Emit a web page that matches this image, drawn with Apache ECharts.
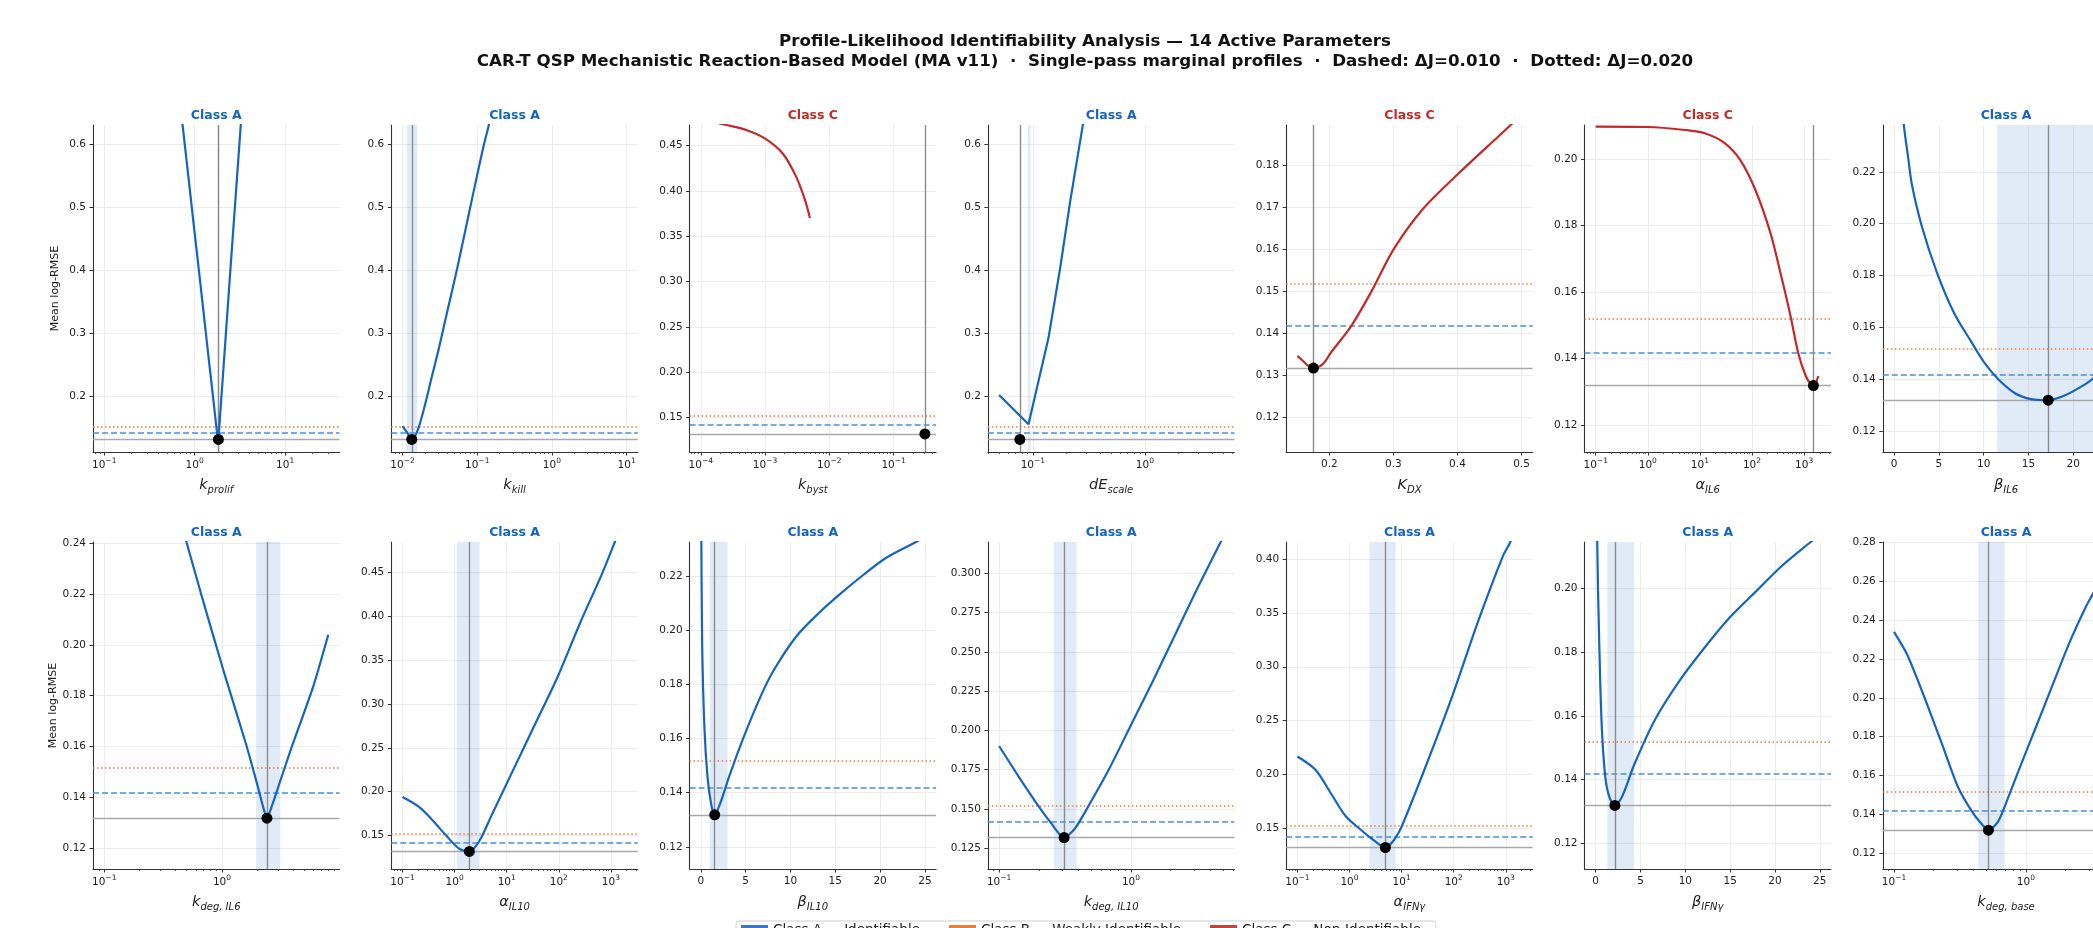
<!DOCTYPE html>
<html><head><meta charset="utf-8">
<script src="https://cdn.jsdelivr.net/npm/echarts@6/dist/echarts.min.js"></script>
<style>html,body{margin:0;padding:0;background:#fff}#c{width:2093px;height:928px}</style>
</head><body><div id="c"></div>
<script>
// ---------------- DATA ----------------
const J_STAR = 0.1318;
const DELTA_DASHED = 0.010;
const DELTA_DOTTED = 0.020;

const paramSymbols = ['k','k','k','dE','K','α','β','k','α','β','k','α','β','k'];
const paramSubs = ['prolif','kill','byst','scale','DX','IL6','IL6','deg, IL6','IL10','IL10','deg, IL10','IFNγ','IFNγ','deg, base'];
const paramClasses = ['A','A','C','A','C','C','A','A','A','A','A','A','A','A'];
const logScaled = [true,true,true,true,false,true,false,true,true,false,true,true,false,true];
const rangeLo = [0.1, 0.01, 1e-4, 0.05, 0.15, 0.1, 0, 0.1, 0.1, 0, 0.1, 0.1, 0, 0.1];
const rangeHi = [30, 10, 0.307, 5, 0.5, 2000, 25, 8, 2000, 25, 5, 2000, 25, 5];
const yTop = [0.6306, 0.6306, 0.4727, 0.6306, 0.1897, 0.2103, 0.2381, 0.2405, 0.4851, 0.2326, 0.320, 0.4161, 0.2147, 0.2803];
const optima = [1.83, 0.0133, 0.307, 0.0766, 0.175, 1510, 17.2, 2.41, 1.92, 1.55, 0.311, 4.89, 2.14, 0.52];
const bandLo = [1.79, 0.0114, null, 0.0905, null, null, 11.5, 1.95, 1.10, 1.0, 0.26, 2.44, 1.3, 0.435];
const bandHi = [1.88, 0.0158, null, 0.0955, null, null, 24.5, 3.13, 3.02, 3.0, 0.387, 7.64, 4.29, 0.69];
const smoothness = [0, 0.3, 0.3, 0, 0.3, 0.3, 0.3, 0.2, 0.3, 0.3, 0.25, 0.3, 0.3, 0.25];

const xTicksRaw = [
  [0.1,1,10],[0.01,0.1,1,10],[1e-4,1e-3,1e-2,1e-1],[0.1,1],[0.2,0.3,0.4,0.5],
  [0.1,1,10,100,1000],[0,5,10,15,20,25],[0.1,1],[0.1,1,10,100,1000],[0,5,10,15,20,25],
  [0.1,1],[0.1,1,10,100,1000],[0,5,10,15,20,25],[0.1,1]
];
const xDecimals = [0,0,0,0,1,0,0,0,0,0,0,0,0,0];
const yTicks = [
  [0.2,0.3,0.4,0.5,0.6],
  [0.2,0.3,0.4,0.5,0.6],
  [0.15,0.20,0.25,0.30,0.35,0.40,0.45],
  [0.2,0.3,0.4,0.5,0.6],
  [0.12,0.13,0.14,0.15,0.16,0.17,0.18],
  [0.12,0.14,0.16,0.18,0.20],
  [0.12,0.14,0.16,0.18,0.20,0.22],
  [0.12,0.14,0.16,0.18,0.20,0.22,0.24],
  [0.15,0.20,0.25,0.30,0.35,0.40,0.45],
  [0.12,0.14,0.16,0.18,0.20,0.22],
  [0.125,0.150,0.175,0.200,0.225,0.250,0.275,0.300],
  [0.15,0.20,0.25,0.30,0.35,0.40],
  [0.12,0.14,0.16,0.18,0.20],
  [0.12,0.14,0.16,0.18,0.20,0.22,0.24,0.26,0.28]
];
const yDecimals = [1,1,2,1,2,2,2,2,2,2,3,2,2,2];

const kProlifX = [0.45,0.6,0.736,0.85,1.0,1.15,1.3,1.45,1.6,1.72,1.78,1.83,1.87,1.95,2.0,2.2,2.5,2.85,3.23,4.0];
const kProlifY = [0.905,0.744,0.630,0.550,0.459,0.382,0.313,0.252,0.198,0.157,0.138,0.1318,0.150,0.188,0.210,0.294,0.407,0.521,0.630,0.819];
const kKillX = [0.01,0.0115,0.0133,0.0158,0.0195,0.0239,0.0308,0.0398,0.0541,0.0735,0.1,0.1227,0.143,0.2];
const kKillY = [0.153,0.143,0.1318,0.145,0.1815,0.2243,0.277,0.335,0.4037,0.4776,0.5515,0.599,0.6306,0.72];
const kBystX = [1e-4,1.6e-4,2.5e-4,5.2e-4,9.9e-4,1.87e-3,3.03e-3,4.18e-3,4.99e-3];
const kBystY = [0.479,0.476,0.4727,0.467,0.458,0.4416,0.416,0.390,0.370];
const dEscaleX = [0.05,0.0915,0.138,0.1754,0.2155,0.279,0.35];
const dEscaleY = [0.2021,0.1557,0.2929,0.4037,0.5095,0.63,0.78];
const KdxX = [0.15,0.16,0.168,0.175,0.19,0.2024,0.234,0.2655,0.3,0.345,0.4,0.447,0.483,0.5];
const KdxY = [0.1347,0.1333,0.1322,0.1318,0.1328,0.1355,0.1418,0.1500,0.160,0.1695,0.1779,0.1846,0.1897,0.1925];
const alphaIL6X = [0.1,1,5.1,12.4,30.3,59.2,115.6,225.6,352,550,769,1075,1343,1510,1879];
const alphaIL6Y = [0.2098,0.2097,0.2088,0.2078,0.2048,0.1998,0.1908,0.1778,0.1657,0.1527,0.1417,0.1347,0.1322,0.1318,0.1347];
const betaIL6X = [0,0.5,1.1,1.6,2.0,3.1,4.8,6.7,8.6,10.1,11.6,13.5,15.3,17.2,19.1,21.35,22.44,25];
const betaIL6Y = [0.29,0.26,0.238,0.225,0.215,0.199,0.181,0.1655,0.1545,0.1462,0.1400,0.1345,0.1322,0.1318,0.1337,0.1380,0.1408,0.148];
const kdegIL6X = [0.4,0.4993,0.662,1.027,1.593,1.985,2.2,2.41,2.65,2.946,3.837,5.956,8.0];
const kdegIL6Y = [0.256,0.2405,0.2204,0.1901,0.1613,0.1454,0.1375,0.1318,0.1365,0.1428,0.1587,0.1836,0.2040];
const alphaIL10X = [0.1,0.21,0.38,0.687,1.24,1.92,3.02,4.94,13.2,35.5,95.2,255,684,1189,2000];
const alphaIL10Y = [0.1939,0.1824,0.1672,0.15,0.1347,0.1318,0.1443,0.171,0.2244,0.2779,0.3313,0.3924,0.4496,0.4851,0.52];
const betaIL10X = [0,0.05,0.15,0.4,0.75,1.15,1.55,2.15,3.15,4.65,6.65,8.15,10.65,13.15,15.65,18.15,20.65,24.0,25];
const betaIL10Y = [0.27,0.24,0.1952,0.1643,0.1458,0.1359,0.1318,0.1359,0.1458,0.1594,0.1754,0.1853,0.1977,0.2063,0.2137,0.2205,0.2267,0.2326,0.2345];
const kdegIL10X = [0.1,0.141,0.193,0.244,0.311,0.376,0.457,0.676,1.0,1.479,2.188,3.236,4.786,5.0];
const kdegIL10Y = [0.1901,0.1705,0.1535,0.1418,0.1318,0.1376,0.1493,0.1748,0.2035,0.2322,0.2619,0.2917,0.320,0.3235];
const alphaIFNgX = [0.1,0.224,0.438,0.855,1.67,2.61,4.89,7.15,10,30.6,93.5,286,875,1222,2000];
const alphaIFNgY = [0.2165,0.204,0.1823,0.1606,0.1481,0.1404,0.1318,0.1388,0.1512,0.2102,0.2724,0.3407,0.4028,0.4161,0.445];
const betaIFNgX = [0,0.17,0.395,0.677,1.07,1.52,2.14,2.93,4.35,6.6,9.42,12.25,15.07,17.9,20.7,23.98,25];
const betaIFNgY = [0.30,0.2147,0.1829,0.1566,0.1408,0.1345,0.1318,0.1345,0.145,0.1587,0.1713,0.1818,0.1913,0.1992,0.207,0.2147,0.217];
const kdegBaseX = [0.1,0.126,0.17,0.228,0.305,0.386,0.46,0.52,0.618,0.736,0.879,1.18,1.58,2.12,2.85,3.38,5.0];
const kdegBaseY = [0.234,0.2222,0.2003,0.1773,0.1542,0.1419,0.1351,0.1318,0.1365,0.1488,0.1624,0.1842,0.206,0.2278,0.2469,0.2564,0.283];

const profileX = [kProlifX,kKillX,kBystX,dEscaleX,KdxX,alphaIL6X,betaIL6X,kdegIL6X,alphaIL10X,betaIL10X,kdegIL10X,alphaIFNgX,betaIFNgX,kdegBaseX];
const profileY = [kProlifY,kKillY,kBystY,dEscaleY,KdxY,alphaIL6Y,betaIL6Y,kdegIL6Y,alphaIL10Y,betaIL10Y,kdegIL10Y,alphaIFNgY,betaIFNgY,kdegBaseY];

const legendNames = ['Class A — Identifiable','Class B — Weakly Identifiable','Class C — Non-Identifiable'];
const legendColors = ['#3b78c9','#ee7b3e','#c8413b'];

// ---------------- STYLE / LAYOUT ----------------
const FONT = 'DejaVu Sans';
const CLASS_COLORS = {A: '#1565C0', B: '#EF6C00', C: '#C62828'};
const GRID_LEFT0 = 93, GRID_STEP = 298.3, GRID_W = 246.5, GRID_H = 327, ROW_TOPS = [125, 542];
const AXIS_COLOR = '#333';
const TEXT_COLOR = '#222';

function axisRange(i) {
  const lo = logScaled[i] ? Math.log10(rangeLo[i]) : rangeLo[i];
  const hi = logScaled[i] ? Math.log10(rangeHi[i]) : rangeHi[i];
  const m = (hi - lo) * 0.05;
  return [lo - m, hi + m];
}

const grids = [], xAxes = [], yAxes = [], series = [], titles = [];
titles.push({
  text: 'Profile-Likelihood Identifiability Analysis — 14 Active Parameters\nCAR-T QSP Mechanistic Reaction-Based Model (MA v11)  ·  Single-pass marginal profiles  ·  Dashed: ΔJ=0.010  ·  Dotted: ΔJ=0.020',
  left: 1085, top: 32, textAlign: 'center', padding: 0,
  textStyle: {fontFamily: FONT, fontSize: 16.7, fontWeight: 'bold', color: '#111', lineHeight: 19.5}
});

for (let i = 0; i < 14; i++) {
  const row = Math.floor(i / 7), col = i % 7;
  const left = GRID_LEFT0 + col * GRID_STEP, top = ROW_TOPS[row];
  grids.push({left: left, top: top, width: GRID_W, height: GRID_H, containLabel: false, outerBoundsMode: 'none'});
  const isLog = logScaled[i];
  const tx = v => isLog ? Math.log10(v) : v;
  const [xmin, xmax] = axisRange(i);
  const majors = xTicksRaw[i].map(tx).filter(v => v >= xmin && v <= xmax);
  const minors = [];
  if (isLog) {
    for (let e = Math.floor(xmin); e <= Math.ceil(xmax); e++) {
      for (let m = 2; m <= 9; m++) {
        const v = e + Math.log10(m);
        if (v > xmin && v < xmax) minors.push(v);
      }
    }
  }
  const cls = paramClasses[i];
  const color = CLASS_COLORS[cls];

  xAxes.push({
    type: 'value', gridIndex: i, min: xmin, max: xmax, position: 'bottom',
    axisLine: {show: true, onZero: false, lineStyle: {color: AXIS_COLOR, width: 1.1}},
    axisTick: {show: true, length: 3.5, customValues: majors, lineStyle: {color: AXIS_COLOR, width: 1}},
    axisLabel: {
      customValues: majors, margin: isLog ? 5 : 7, color: TEXT_COLOR, fontFamily: FONT, fontSize: 10.5,
      formatter: function (v) {
        if (isLog) {
          const e = Math.round(v);
          return '{b|10}{s|' + (e < 0 ? '−' + (-e) : String(e)) + '}';
        }
        return v.toFixed(xDecimals[i]);
      },
      rich: {
        b: {fontFamily: FONT, fontSize: 10.5, color: TEXT_COLOR},
        s: {fontFamily: FONT, fontSize: 7.5, color: TEXT_COLOR, padding: [0, 0, 9, 0]}
      }
    },
    splitLine: {show: true, lineStyle: {color: '#ececec', width: 1}},
    name: '{m|' + paramSymbols[i] + '}{s|' + paramSubs[i] + '}',
    nameLocation: 'middle', nameGap: 24,
    nameTextStyle: {
      rich: {
        m: {fontFamily: FONT, fontStyle: 'italic', fontSize: 14.5, color: TEXT_COLOR},
        s: {fontFamily: FONT, fontStyle: 'italic', fontSize: 10, color: TEXT_COLOR, padding: [9, 0, 0, 0]}
      }
    }
  });
  xAxes.push({
    type: 'value', gridIndex: i, min: xmin, max: xmax, position: 'bottom',
    axisLine: {show: false, onZero: false},
    axisTick: {show: minors.length > 0, length: 2, customValues: minors.length ? minors : [xmin], lineStyle: {color: AXIS_COLOR, width: 0.8}},
    axisLabel: {show: false},
    splitLine: {show: false}
  });
  const dec = yDecimals[i];
  const yAx = {
    type: 'value', gridIndex: i, min: J_STAR - DELTA_DOTTED, max: yTop[i],
    axisLine: {show: true, onZero: false, lineStyle: {color: AXIS_COLOR, width: 1.1}},
    axisTick: {show: true, length: 3.5, customValues: yTicks[i], lineStyle: {color: AXIS_COLOR, width: 1}},
    axisLabel: {customValues: yTicks[i], margin: 7, color: TEXT_COLOR, fontFamily: FONT, fontSize: 10.5,
      formatter: v => v.toFixed(dec)},
    splitLine: {show: true, lineStyle: {color: '#ececec', width: 1}}
  };
  if (col === 0) {
    yAx.name = 'Mean log-RMSE';
    yAx.nameLocation = 'middle';
    yAx.nameGap = 32;
    yAx.nameRotate = 90;
    yAx.nameTextStyle = {fontFamily: FONT, fontSize: 11, color: TEXT_COLOR};
  }
  yAxes.push(yAx);

  titles.push({
    text: 'Class ' + cls, left: left + GRID_W / 2, top: top - 16, textAlign: 'center', padding: 0,
    textStyle: {fontFamily: FONT, fontSize: 12.5, fontWeight: 'bold', color: color}
  });

  const pts = profileX[i].map((x, k) => [tx(x), profileY[i][k]]);
  const xo = tx(optima[i]);
  const mlData = [
    {yAxis: J_STAR, lineStyle: {color: '#a8a8a8', width: 1.3, type: 'solid'}},
    {yAxis: J_STAR + DELTA_DASHED, lineStyle: {color: '#4A8FDF', width: 1.6, type: [6, 3]}},
    {yAxis: J_STAR + DELTA_DOTTED, lineStyle: {color: '#F07A3C', width: 1.5, type: [1.5, 2.5]}},
    {xAxis: xo, lineStyle: {color: '#8c8c8c', width: 1.4, type: 'solid'}}
  ];
  const s = {
    type: 'line', name: 'profile' + i, xAxisIndex: 2 * i, yAxisIndex: i,
    data: pts, showSymbol: false, symbol: 'none', silent: true, animation: false,
    smooth: smoothness[i] > 0 ? smoothness[i] : false,
    lineStyle: {color: color, width: 2.2}, z: 4, clip: true,
    markLine: {silent: true, symbol: 'none', precision: 8, animation: false, label: {show: false}, data: mlData, z: 3},
  };
  if (bandLo[i] !== null) {
    s.markArea = {silent: true, animation: false, precision: 8, itemStyle: {color: 'rgba(21,101,192,0.13)'},
      data: [[{xAxis: tx(bandLo[i])}, {xAxis: tx(bandHi[i])}]]};
  }
  series.push(s);
  series.push({
    type: 'scatter', name: 'opt' + i, xAxisIndex: 2 * i, yAxisIndex: i,
    data: [[xo, J_STAR]], symbolSize: 11, itemStyle: {color: '#000', opacity: 1}, z: 6, silent: true, animation: false
  });
}

legendNames.forEach((n, k) => {
  series.push({type: 'line', name: n, xAxisIndex: 0, yAxisIndex: 0, data: [],
    itemStyle: {color: legendColors[k]}, lineStyle: {color: legendColors[k]}});
});

const chart = echarts.init(document.getElementById('c'), null, {renderer: 'canvas', width: 2093, height: 928});
chart.setOption({
  backgroundColor: '#fff',
  animation: false,
  textStyle: {fontFamily: FONT},
  title: titles,
  grid: grids,
  xAxis: xAxes,
  yAxis: yAxes,
  legend: {
    left: 736, top: 921, orient: 'horizontal', padding: [2, 15, 5, 5],
    itemWidth: 27, itemHeight: 10, itemGap: 29, icon: 'rect', selectedMode: false,
    borderColor: '#cfcfcf', borderWidth: 1, borderRadius: 3,
    textStyle: {fontFamily: FONT, fontSize: 13.5, color: TEXT_COLOR},
    data: legendNames
  },
  series: series
});
</script>
</body></html>
